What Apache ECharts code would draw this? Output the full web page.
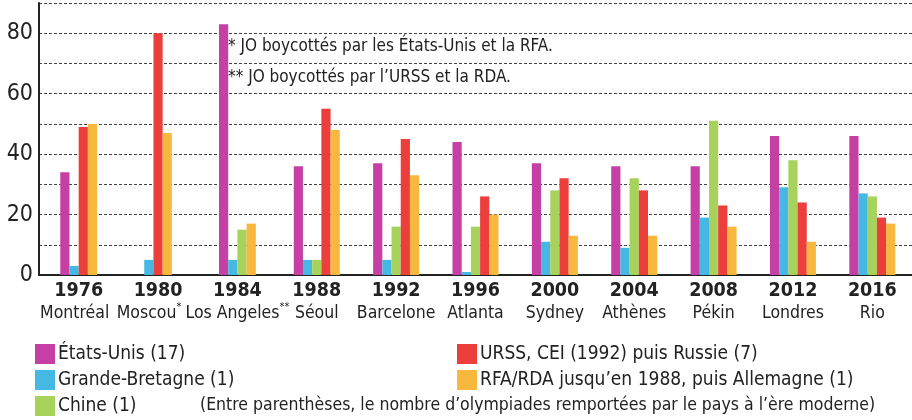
<!DOCTYPE html>
<html>
<head>
<meta charset="utf-8">
<script src="https://cdn.jsdelivr.net/npm/echarts@6/dist/echarts.min.js"></script>
<style>
  html, body { margin: 0; padding: 0; background: #fff; }
  #chart { width: 912px; height: 420px; }
</style>
</head>
<body>
<div id="chart"></div>
<script>
// années et villes des JO
var years = ['1976', '1980', '1984', '1988', '1992', '1996', '2000', '2004', '2008', '2012', '2016'];
var cities = ['Montréal', 'Moscou*', 'Los Angeles**', 'Séoul', 'Barcelone', 'Atlanta', 'Sydney', 'Athènes', 'Pékin', 'Londres', 'Rio'];

// médailles d'or par pays (null = absent)
var usa = [34, null, 83, 36, 37, 44, 37, 36, 36, 46, 46];
var gbr = [3, 5, 5, 5, 5, 1, 11, 9, 19, 29, 27];
var chn = [null, null, 15, 5, 16, 16, 28, 32, 51, 38, 26];
var rus = [49, 80, null, 55, 45, 26, 32, 28, 23, 24, 19];
var ger = [50, 47, 17, 48, 33, 20, 13, 13, 16, 11, 17];

var yTicks = [0, 20, 40, 60, 80];

var names = ['États-Unis (17)', 'Grande-Bretagne (1)', 'Chine (1)', 'URSS, CEI (1992) puis Russie (7)', 'RFA/RDA jusqu’en 1988, puis Allemagne (1)'];
var colors = ['#c53fa5', '#45b8e4', '#a7d25c', '#ec3e3b', '#f8b83d'];
var allData = [usa, gbr, chn, rus, ger];

var FONT = "'DejaVu Sans Condensed', 'Liberation Sans Narrow', sans-serif";
var BAR_W = 9.2;

// les barres présentes sont serrées et centrées sur l'année
function makeRender(si) {
    return function (params, api) {
        var idx = api.value(0);
        var v = api.value(1);
        var n = 0, pos = 0;
        for (var k = 0; k < allData.length; k++) {
            if (allData[k][idx] != null) {
                if (k === si) pos = n;
                n++;
            }
        }
        var top = api.coord([idx, v]);
        var base = api.coord([idx, 0]);
        return {
            type: 'rect',
            shape: {
                x: top[0] - n * BAR_W / 2 + pos * BAR_W,
                y: top[1],
                width: BAR_W,
                height: base[1] - top[1]
            },
            style: api.style()
        };
    };
}

var series = allData.map(function (arr, si) {
    var d = [];
    arr.forEach(function (v, i) {
        if (v != null) d.push([i, v]);
    });
    return {
        name: names[si],
        type: 'custom',
        renderItem: makeRender(si),
        itemStyle: { color: colors[si] },
        encode: { x: 0, y: 1 },
        data: d
    };
});

var cityStyle = { fontFamily: FONT, fontSize: 17.5, color: '#222', lineHeight: 22 };
var starStyle = { fontFamily: FONT, fontSize: 11, color: '#222', lineHeight: 22, verticalAlign: 'top' };

var myChart = echarts.init(document.getElementById('chart'));
var option = {
    backgroundColor: '#fff',
    animation: false,
    grid: { left: 39, right: -13, top: 3, bottom: 145 },
    xAxis: {
        type: 'category',
        data: years,
        axisLine: { lineStyle: { color: '#222', width: 2 } },
        axisTick: { show: false },
        axisLabel: {
            margin: 5,
            interval: 0,
            formatter: function (value, index) {
                var m = cities[index].match(/^(.*?)(\**)$/);
                var s = '{y|' + value + '}\n';
                // les deux premières villes sont un peu décalées à gauche pour ne pas se chevaucher
                if (index === 0) return s + '{c0|' + m[1] + '}';
                if (index === 1) return s + '{c|' + m[1] + '}{s1|' + m[2] + '}';
                s += '{c|' + m[1] + '}';
                if (m[2]) s += '{s|' + m[2] + '}';
                return s;
            },
            rich: {
                y: { fontFamily: FONT, fontSize: 19.5, fontWeight: 'bold', color: '#222', lineHeight: 22 },
                c: cityStyle,
                c0: Object.assign({}, cityStyle, { padding: [0, 8, 0, 0] }),
                s: starStyle,
                s1: Object.assign({}, starStyle, { padding: [0, 18, 0, 0] })
            }
        }
    },
    yAxis: {
        type: 'value',
        min: 0,
        max: 90,
        interval: 10,
        axisLine: { show: true, lineStyle: { color: '#222', width: 2 } },
        axisTick: { show: false },
        axisLabel: {
            margin: 6,
            fontFamily: FONT,
            fontSize: 23,
            color: '#222',
            padding: [0, 0, 8, 0],
            formatter: function (v) {
                return yTicks.indexOf(v) >= 0 ? String(v) : '';
            }
        },
        splitLine: { lineStyle: { color: '#444', width: 1, type: [3, 2] } }
    },
    legend: [{
        left: 30,
        top: 339,
        height: 90,
        orient: 'vertical',
        itemWidth: 20,
        itemHeight: 20,
        itemGap: 6,
        icon: 'rect',
        data: names.slice(0, 3),
        textStyle: { fontFamily: FONT, fontSize: 19, lineHeight: 20, color: '#222', padding: [0, 0, 0, -2] }
    }, {
        left: 452,
        top: 339,
        height: 90,
        orient: 'vertical',
        itemWidth: 20,
        itemHeight: 20,
        itemGap: 6,
        icon: 'rect',
        data: names.slice(3),
        textStyle: { fontFamily: FONT, fontSize: 19, lineHeight: 20, color: '#222', padding: [0, 0, 0, -2] }
    }],
    graphic: [{
        type: 'text', left: 228, top: 38,
        style: { text: '* JO boycottés par les États-Unis et la RFA.', font: '17px ' + FONT, fill: '#222' }
    }, {
        type: 'text', left: 228, top: 69,
        style: { text: '** JO boycottés par l’URSS et la RDA.', font: '17px ' + FONT, fill: '#222' }
    }, {
        type: 'text', left: 200, top: 396,
        style: { text: '(Entre parenthèses, le nombre d’olympiades remportées par le pays à l’ère moderne)', font: '17.5px ' + FONT, fill: '#222' }
    }],
    series: series
};
myChart.setOption(option);
</script>
</body>
</html>
